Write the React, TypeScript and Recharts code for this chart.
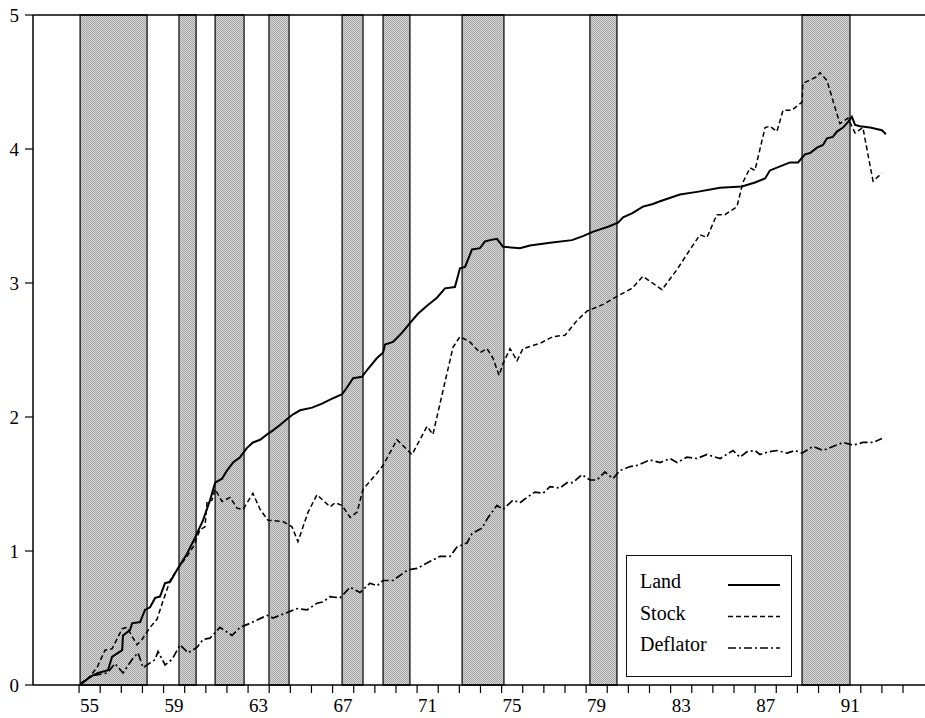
import { ComposedChart, Line, XAxis, YAxis, ReferenceArea, ReferenceLine, Legend } from 'recharts';

const FONT = 'Liberation Serif, Times New Roman, serif';

// shaded periods, in years (19xx)
const bandStart = [55.05, 59.73, 61.44, 63.99, 67.45, 69.39, 73.13, 79.18, 89.22];
const bandEnd = [58.22, 60.54, 62.81, 64.94, 68.44, 70.66, 75.11, 80.46, 91.49];

const xTicks = [
  55, 56, 57, 58, 59, 60, 61, 62, 63, 64, 65, 66, 67, 68, 69, 70, 71, 72, 73, 74,
  75, 76, 77, 78, 79, 80, 81, 82, 83, 84, 85, 86, 87, 88, 89, 90, 91, 92, 93, 94,
];
const xLabels = [55, 59, 63, 67, 71, 75, 79, 83, 87, 91];
const yTicks = [0, 1, 2, 3, 4, 5];

const landYears = [
  55.05, 55.52, 55.9, 56.37, 56.56, 57.04, 57.08, 57.41, 57.51, 57.89, 58.12, 58.36, 58.6, 58.83,
  59.07, 59.31, 59.64, 60.11, 60.49, 60.87, 61.2, 61.44, 61.77, 62.0, 62.29, 62.62, 62.95, 63.23,
  63.57, 63.9, 64.18, 64.51, 64.89, 65.13, 65.46, 66.03, 66.5, 66.88, 67.45, 67.68, 67.97, 68.39,
  68.68, 69.1, 69.39, 69.48, 69.86, 70.29, 70.66, 71.04, 71.47, 71.94, 72.32, 72.79, 73.03, 73.27,
  73.6, 73.98, 74.21, 74.45, 74.78, 75.07, 75.87, 76.34, 77.29, 78.33, 78.85, 79.28, 79.66, 80.04,
  80.51, 80.75, 81.17, 81.69, 82.16, 82.5, 83.44, 84.25, 85.34, 86.38, 86.99, 87.47, 87.7, 88.18,
  88.65, 89.03, 89.36, 89.6, 89.93, 90.21, 90.4, 90.68, 90.87, 91.16, 91.39, 91.58, 91.73, 91.96,
  92.44, 93.0, 93.19,
];
const landValues = [
  0.0, 0.06, 0.09, 0.11, 0.21, 0.26, 0.37, 0.41, 0.46, 0.47, 0.56, 0.58, 0.65, 0.66,
  0.76, 0.77, 0.86, 0.98, 1.1, 1.23, 1.38, 1.51, 1.54, 1.6, 1.66, 1.7, 1.77, 1.81,
  1.83, 1.87, 1.9, 1.94, 1.99, 2.02, 2.05, 2.07, 2.1, 2.13, 2.17, 2.22, 2.29, 2.3,
  2.36, 2.44, 2.48, 2.54, 2.56, 2.63, 2.7, 2.77, 2.83, 2.89, 2.96, 2.97, 3.11, 3.12,
  3.25, 3.26, 3.31, 3.32, 3.33, 3.27, 3.26, 3.28, 3.3, 3.32, 3.35, 3.38, 3.4, 3.42,
  3.45, 3.49, 3.52, 3.57, 3.59, 3.61, 3.66, 3.68, 3.71, 3.72, 3.75, 3.78, 3.84, 3.87,
  3.9, 3.9, 3.96, 3.97, 4.01, 4.03, 4.08, 4.09, 4.13, 4.16, 4.2, 4.24, 4.18, 4.17,
  4.16, 4.14, 4.11,
];

const stockYears = [
  55.05, 55.43, 55.85, 56.23, 56.56, 56.85, 57.04, 57.27, 57.74, 57.98, 58.36, 58.69, 58.98, 59.31,
  59.64, 60.11, 60.4, 60.73, 60.96, 61.06, 61.29, 61.44, 61.77, 62.15, 62.48, 62.76, 63.23, 63.57,
  63.94, 64.65, 65.08, 65.36, 65.84, 66.26, 66.88, 67.12, 67.45, 67.83, 68.16, 68.44, 69.1, 69.39,
  70.05, 70.76, 71.47, 71.75, 72.23, 72.7, 73.03, 73.5, 73.98, 74.31, 74.59, 74.88, 75.07, 75.4,
  75.73, 76.01, 76.82, 77.43, 78.0, 78.57, 79.04, 79.8, 80.46, 81.17, 81.69, 82.59, 83.3, 83.92,
  84.39, 84.72, 85.19, 85.57, 86.14, 86.42, 86.76, 86.99, 87.47, 87.7, 88.03, 88.32, 88.74, 89.22,
  89.26, 89.93, 90.07, 90.4, 90.78, 91.01, 91.39, 91.73, 92.1, 92.58, 93.0,
];
const stockValues = [
  0.01, 0.05, 0.13, 0.26, 0.27, 0.36, 0.42, 0.43, 0.3, 0.34, 0.43, 0.49, 0.63, 0.78,
  0.86, 0.96, 1.03, 1.16, 1.18, 1.37, 1.38, 1.46, 1.37, 1.4, 1.32, 1.31, 1.43, 1.31,
  1.23, 1.22, 1.18, 1.07, 1.29, 1.42, 1.33, 1.36, 1.34, 1.25, 1.29, 1.46, 1.58, 1.64,
  1.83, 1.72, 1.93, 1.87, 2.2, 2.52, 2.6, 2.56, 2.48, 2.51, 2.44, 2.31, 2.4, 2.51,
  2.42, 2.51, 2.55, 2.6, 2.61, 2.72, 2.79, 2.84, 2.9, 2.96, 3.05, 2.95, 3.1, 3.25,
  3.36, 3.34, 3.51, 3.51, 3.57, 3.75, 3.86, 3.84, 4.16, 4.17, 4.13, 4.29, 4.29, 4.35,
  4.49, 4.54, 4.57, 4.51, 4.31, 4.19, 4.23, 4.12, 4.16, 3.76, 3.82,
];

const deflatorYears = [
  55.05, 55.66, 56.33, 56.7, 57.08, 57.51, 57.79, 58.03, 58.22, 58.6, 58.74, 59.07, 59.4, 59.78,
  60.16, 60.58, 60.87, 61.2, 61.67, 62.24, 62.62, 63.09, 63.9, 64.18, 64.84, 65.32, 65.79, 66.26,
  66.55, 66.88, 67.35, 67.83, 68.3, 68.77, 69.1, 69.39, 69.86, 70.57, 71.0, 71.47, 72.08, 72.56,
  72.89, 73.36, 73.6, 74.07, 74.36, 74.78, 75.07, 75.54, 75.87, 76.2, 76.58, 76.96, 77.29, 77.76,
  78.1, 78.38, 78.8, 79.18, 79.51, 79.89, 80.27, 80.6, 81.08, 81.46, 82.02, 82.5, 82.97, 83.3,
  83.77, 84.25, 84.72, 85.34, 85.95, 86.28, 86.61, 86.99, 87.23, 87.61, 88.03, 88.51, 88.89, 89.22,
  89.74, 90.21, 90.68, 91.16, 91.63, 92.1, 92.58, 93.0,
];
const deflatorValues = [
  0.01, 0.07, 0.09, 0.16, 0.09, 0.19, 0.24, 0.13, 0.15, 0.19, 0.25, 0.15, 0.19, 0.3,
  0.24, 0.28, 0.34, 0.35, 0.43, 0.37, 0.43, 0.46, 0.52, 0.5, 0.54, 0.57, 0.56, 0.61,
  0.62, 0.66, 0.65, 0.73, 0.69, 0.76, 0.74, 0.78, 0.78, 0.86, 0.87, 0.91, 0.96, 0.96,
  1.03, 1.06, 1.13, 1.17, 1.25, 1.34, 1.31, 1.38, 1.36, 1.4, 1.44, 1.43, 1.48, 1.47,
  1.51, 1.51, 1.57, 1.53, 1.53, 1.59, 1.54, 1.6, 1.63, 1.64, 1.68, 1.66, 1.69, 1.66,
  1.7, 1.69, 1.72, 1.69, 1.75, 1.7, 1.74, 1.75, 1.72, 1.74, 1.75, 1.73, 1.75, 1.73,
  1.78, 1.75, 1.78, 1.81, 1.79, 1.81, 1.81, 1.84,
];

const toPoints = (years: number[], values: number[]) =>
  years.map((year, i) => ({ year, value: values[i] }));

const SERIES = [
  { name: 'Land', data: toPoints(landYears, landValues), width: 2, dash: undefined as string | undefined },
  { name: 'Stock', data: toPoints(stockYears, stockValues), width: 1.5, dash: '5 3' },
  { name: 'Deflator', data: toPoints(deflatorYears, deflatorValues), width: 1.7, dash: '8 3 2 3' },
];

const textStyle = { fontFamily: FONT, fontSize: 19, fill: '#000' };

const YearTick = (props: any) => {
  const { x, y, payload } = props;
  if (!xLabels.includes(payload.value)) {
    return <g />;
  }
  // labels sit in the middle of the year interval
  return (
    <text x={x + 10.5} y={y} dy="0.71em" textAnchor="middle" style={textStyle}>
      {payload.value}
    </text>
  );
};

const LegendBox = () => (
  <div style={{ width: 164, height: 120, border: '1.3px solid #111', background: '#fff' }}>
    <svg width={164} height={120} style={{ display: 'block' }}>
      {SERIES.map((s, i) => {
        const base = 32 + i * 31.5;
        return (
          <g key={s.name}>
            <text x={13} y={base} style={{ ...textStyle, fontSize: 20 }}>
              {s.name}
            </text>
            <line
              x1={101}
              x2={153}
              y1={base - 3}
              y2={base - 3}
              stroke="#000"
              strokeWidth={s.width}
              strokeDasharray={s.dash}
            />
          </g>
        );
      })}
    </svg>
  </div>
);

export default function App() {
  return (
    <div style={{ position: 'absolute', left: 0, top: 0, background: '#fff', fontFamily: FONT }}>
      <ComposedChart width={925} height={718} margin={{ top: 15, right: 0, bottom: 0, left: 0 }}>
        <defs>
          <pattern id="stipple" width={2} height={2} patternUnits="userSpaceOnUse">
            <rect width={2} height={2} fill="#d6d6d6" />
            <rect width={1} height={1} fill="#a6a6a6" />
            <rect x={1} y={1} width={1} height={1} fill="#a6a6a6" />
          </pattern>
        </defs>
        <XAxis
          dataKey="year"
          type="number"
          domain={[52.82, 95.04]}
          ticks={xTicks}
          interval={0}
          allowDataOverflow
          height={33}
          tickSize={8}
          tickMargin={6}
          tick={<YearTick />}
          axisLine={{ stroke: '#000', strokeWidth: 1.5 }}
          tickLine={{ stroke: '#000', strokeWidth: 1.2 }}
        />
        <YAxis
          type="number"
          domain={[0, 5]}
          ticks={yTicks}
          width={33}
          tickSize={8}
          tickMargin={6}
          tick={{ style: textStyle, fill: '#000' }}
          axisLine={{ stroke: '#000', strokeWidth: 1.5 }}
          tickLine={{ stroke: '#000', strokeWidth: 1.2 }}
        />
        {bandStart.map((start, i) => (
          <ReferenceArea
            key={start}
            x1={start}
            x2={bandEnd[i]}
            y1={0}
            y2={5}
            fill="url(#stipple)"
            fillOpacity={1}
            stroke="#111"
            strokeWidth={1.3}
          />
        ))}
        <ReferenceLine y={5} stroke="#000" strokeWidth={1.5} />
        {SERIES.map((s) => (
          <Line
            key={s.name}
            name={s.name}
            data={s.data}
            dataKey="value"
            type="linear"
            stroke="#000"
            strokeWidth={s.width}
            strokeDasharray={s.dash}
            dot={false}
            activeDot={false}
            isAnimationActive={false}
          />
        ))}
        <Legend
          layout="vertical"
          align="center"
          verticalAlign="middle"
          content={<LegendBox />}
          wrapperStyle={{ left: 626, top: 555, width: 166, height: 122 }}
        />
      </ComposedChart>
    </div>
  );
}
